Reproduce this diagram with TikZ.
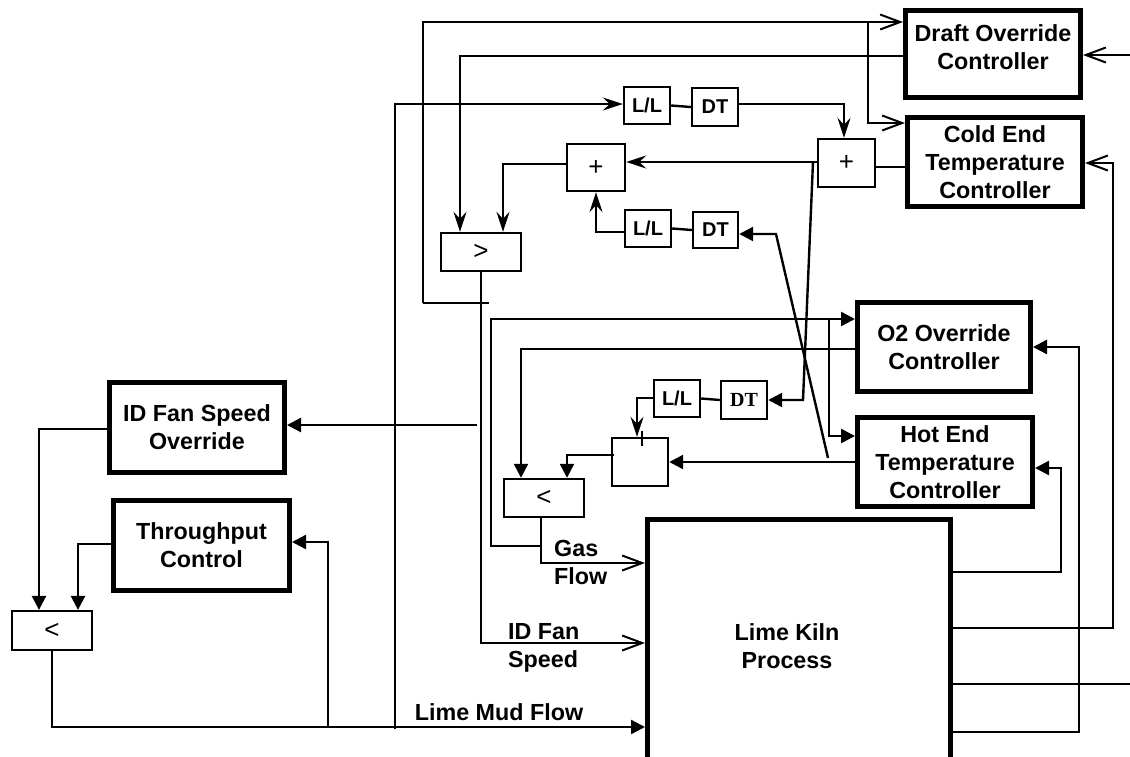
\documentclass[tikz,border=0pt]{standalone}
\usepackage{fontspec}
\setmainfont{Liberation Sans}
\newfontfamily\serifb{Liberation Serif}
\usetikzlibrary{arrows.meta}
\begin{document}
\begin{tikzpicture}[x=1pt,y=-1pt,line width=2.4pt,
  ctl/.style={draw,line width=5pt,inner sep=0pt,align=center,font=\fontsize{23.3}{28}\selectfont\bfseries},
  sbox/.style={draw,line width=2.4pt,inner sep=0pt,font=\fontsize{20}{24}\selectfont\bfseries},
  opbox/.style={draw,line width=2.4pt,inner sep=0pt,font=\fontsize{26}{30}\selectfont},
  lbl/.style={font=\fontsize{23.3}{28}\selectfont\bfseries,align=left,inner sep=0pt},
  oa/.style={-{Straight Barb[length=20pt,width=15pt,line width=2pt]}},
  sa/.style={-{Stealth[length=20pt,width=13pt,inset=7pt]}},
  fa/.style={-{Triangle[length=14pt,width=14pt]}}]
\useasboundingbox (0,0) rectangle (1130,756);
\clip (0,0) rectangle (1130,756);

% controllers
\node[ctl,minimum width=175pt,minimum height=87pt] (draft) at (993,54) {};
\node[lbl,align=center] (draftT) at (993,47.5) {Draft Override\\Controller};
\node[ctl,minimum width=175pt,minimum height=89pt] (cold) at (995,162) {Cold End\\Temperature\\Controller};
\node[ctl,minimum width=173pt,minimum height=89pt] (o2) at (944,347) {O2 Override\\Controller};
\node[ctl,minimum width=175pt,minimum height=89pt] (hot) at (945,462) {Hot End\\Temperature\\Controller};
\node[ctl,minimum width=175pt,minimum height=90pt] (idfan) at (197,427.5) {ID Fan Speed\\Override};
\node[ctl,minimum width=176pt,minimum height=90pt] (thru) at (201.5,545.5) {Throughput\\Control};
\node[ctl,minimum width=303pt,minimum height=261pt] (kiln) at (799,650) {};
\node[lbl,align=center] (kilnT) at (787,646) {Lime Kiln\\Process};

% small blocks
\node[opbox,minimum width=79.8pt,minimum height=38.8pt] (lt1) at (52,630.5) {<};
\node[opbox,minimum width=80pt,minimum height=38pt] (gt) at (481,252) {>};
\node[opbox,minimum width=80pt,minimum height=38pt] (lt2) at (544,498) {<};
\node[opbox,minimum width=58pt,minimum height=47pt] (plus1) at (596,167.5) {+};
\node[opbox,minimum width=57pt,minimum height=48pt] (plus2) at (846.5,163) {+};
\node[opbox,minimum width=56pt,minimum height=48pt] (mid) at (640,462) {};
\node[sbox,minimum width=46pt,minimum height=37pt] (ll1) at (647,105.5) {L/L};
\node[sbox,minimum width=46pt,minimum height=38pt] (dt1) at (715,107) {DT};
\node[sbox,minimum width=46pt,minimum height=37pt] (ll2) at (648,228.5) {L/L};
\node[sbox,minimum width=45pt,minimum height=36pt] (dt2) at (715.5,230) {DT};
\node[sbox,minimum width=46pt,minimum height=37pt] (ll3) at (677,398.5) {L/L};
\node[sbox,minimum width=46pt,minimum height=38pt,font=\fontsize{20}{24}\selectfont\serifb\bfseries] (dt3) at (744,400) {DT};

% labels
\node[lbl,anchor=west] (gasL) at (553,562) {Gas\\Flow};
\node[lbl,anchor=west] (idL) at (507,648) {ID Fan\\Speed};
\node[lbl] (mudL) at (499,712) {Lime Mud Flow};

% junction coordinates
\coordinate (jA) at (423,22);
\coordinate (jB) at (868,22);
\coordinate (jC) at (423,303);
\coordinate (jD) at (489,303);
\coordinate (jE) at (868,123);
\coordinate (jF) at (481,643);
\coordinate (jG) at (477,425);
\coordinate (jH) at (460,56);
\coordinate (jI) at (503,164);
\coordinate (jJ) at (813,162);
\coordinate (jK) at (803,400);
\coordinate (jL) at (890,167);
\coordinate (jM) at (395,729);
\coordinate (jN) at (395,104);
\coordinate (jO) at (844,104);
\coordinate (jP) at (596,232);
\coordinate (jQ) at (776,234);
\coordinate (jR) at (828,458);
\coordinate (jS) at (567,455);
\coordinate (jT) at (637,398);
\coordinate (jU) at (521,349);
\coordinate (jV) at (541,563);
\coordinate (jW) at (541,546);
\coordinate (jX) at (491,546);
\coordinate (jY) at (491,319);
\coordinate (jZ) at (829,319);
\coordinate (jZb) at (829,436);
\coordinate (r1) at (1061,572);
\coordinate (r1t) at (1061,468);
\coordinate (r2) at (1113,628);
\coordinate (r2t) at (1113,163);
\coordinate (r3) at (1130,684);
\coordinate (r4) at (1079,732);
\coordinate (r4t) at (1079,347);
\coordinate (r5) at (1130,55);
\coordinate (l1) at (39,429);
\coordinate (l2) at (78,544);
\coordinate (l3) at (52,727);
\coordinate (l4) at (328,727);
\coordinate (l5) at (328,542);

% ID fan speed signal
\draw[oa] (gt.south) -- (jF) -- (kiln.west |- jF);
\draw (jC) -- (jD);
\draw[oa] (jC) -- (jA) -- (draft.west |- jA);
\draw[oa] (jB) -- (jE) -- (cold.west |- jE);
\draw[fa] (jG) -- (idfan.east |- jG);

% draft override / sums to selector
\draw[sa] (draft.west |- jH) -- (jH) -- (jH |- gt.north);
\draw[sa] (plus1.west |- jI) -- (jI) -- (jI |- gt.north);

% cold end sum
\draw (cold.west |- jL) -- (plus2.east |- jL);
\draw (plus2.west |- jJ) -- (jJ);
\draw[sa] (jJ) -- (plus1.east |- jJ);
\draw[fa] (jJ) -- (jK) -- (dt3.east |- jK);

% feedforward 1
\draw[sa] (jM) -- (jN) -- (ll1.west |- jN);
\draw (ll1.east) -- (dt1.west);
\draw[sa] (dt1.east |- jO) -- (jO) -- (jO |- plus2.north);

% feedforward 2
\draw (ll2.east) -- (dt2.west);
\draw[sa] (ll2.west |- jP) -- (jP) -- (jP |- plus1.south);
\draw[fa] (jR) -- (jQ) -- (dt2.east |- jQ);

% hot end path
\draw[fa] (hot.west) -- (mid.east);
\draw[fa] ([xshift=3pt]mid.west |- jS) -- (jS) -- (jS |- lt2.north);
\draw[line width=1.5pt] (642,431) -- (642,446);
\draw (ll3.east) -- (dt3.west);
\draw[sa] (ll3.west |- jT) -- (jT) -- (jT |- mid.north);

% O2 override
\draw[fa] (o2.west |- jU) -- (jU) -- (jU |- lt2.north);

% gas flow
\draw[oa] (lt2.south -| jV) -- (jV) -- (kiln.west |- jV);
\draw[fa] (jW) -- (jX) -- (jY) -- (o2.west |- jY);
\draw[fa] (jZ) -- (jZb) -- (hot.west |- jZb);

% kiln measurements
\draw[fa] (kiln.east |- r1) -- (r1) -- (r1t) -- (hot.east |- r1t);
\draw[oa] (kiln.east |- r2) -- (r2) -- (r2t) -- (cold.east |- r2t);
\draw (kiln.east |- r3) -- (r3);
\draw[fa] (kiln.east |- r4) -- (r4) -- (r4t) -- (o2.east |- r4t);
\draw[oa] (r5) -- (draft.east |- r5);

% lime mud flow
\draw[fa] (idfan.west |- l1) -- (l1) -- (l1 |- lt1.north);
\draw[fa] (thru.west |- l2) -- (l2) -- (l2 |- lt1.north);
\draw[fa] (lt1.south) -- (l3) -- (kiln.west |- l3);
\draw[fa] (l4) -- (l5) -- (thru.east |- l5);
\end{tikzpicture}
\end{document}
